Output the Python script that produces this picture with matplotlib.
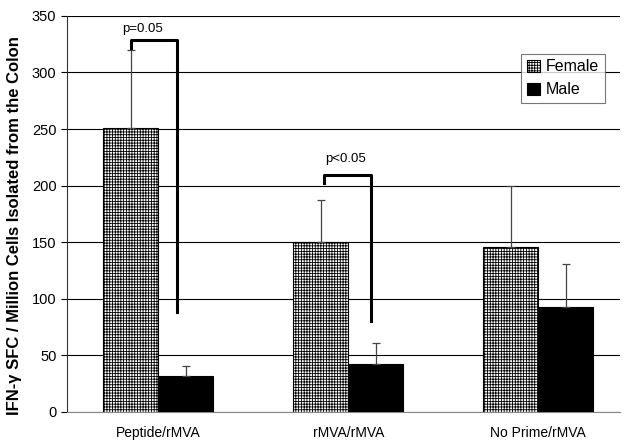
import matplotlib
matplotlib.use('Agg')
import matplotlib.pyplot as plt
import numpy as np

plt.rcParams['font.family'] = ['Liberation Sans', 'DejaVu Sans']
plt.rcParams['hatch.linewidth'] = 0.6

# data
groups = ['Peptide/rMVA', 'rMVA/rMVA', 'No Prime/rMVA']
female = [251, 150, 146]
female_err = [69, 37, 54]
male = [32, 42, 93]
male_err = [9, 19, 38]

yticks = [0, 50, 100, 150, 200, 250, 300, 350]

fig = plt.figure(figsize=(6.25, 4.42), dpi=100)
ax = fig.add_axes([0.107, 0.068, 0.885, 0.896])

x = np.arange(len(groups))
w = 0.29

ax.bar(x - w / 2, female, w, color='white', edgecolor='black', hatch='++++++',
       linewidth=0.8, label='Female', zorder=3)
ax.bar(x + w / 2, male, w, color='black', edgecolor='black',
       linewidth=0.8, label='Male', zorder=3)

# one-sided error bars
ax.errorbar(x - w / 2, female, yerr=[np.zeros(3), female_err], fmt='none',
            ecolor='#444444', elinewidth=0.9, capsize=3, capthick=0.9, zorder=4)
ax.errorbar(x + w / 2, male, yerr=[np.zeros(3), male_err], fmt='none',
            ecolor='#444444', elinewidth=0.9, capsize=3, capthick=0.9, zorder=4)

# significance brackets
ax.plot([-w / 2, -w / 2, 0.1, 0.1], [322, 329, 329, 88], color='black', lw=2.2,
        solid_joinstyle='round', zorder=5)
ax.text(-0.08, 333, 'p=0.05', ha='center', va='bottom', fontsize=9.5)
ax.plot([1 - 0.126, 1 - 0.126, 1.12, 1.12], [202, 209, 209, 80], color='black',
        lw=2.2, solid_joinstyle='round', zorder=5)
ax.text(0.985, 218, 'p<0.05', ha='center', va='bottom', fontsize=9.5)

ax.set_xlim(-0.48, 2.43)
ax.set_ylim(0, 350)
ax.set_yticks(yticks)
ax.yaxis.grid(True, color='black', linewidth=0.8, zorder=0)
ax.set_axisbelow(True)
ax.set_xticks(x)
ax.set_xticklabels(groups, fontsize=10)
ax.tick_params(axis='x', length=0, pad=10)
ax.tick_params(axis='y', labelsize=10.5, direction='out', length=4, width=0.8)

for side in ['top', 'right']:
    ax.spines[side].set_visible(False)
ax.spines['left'].set_color('#333333')
ax.spines['bottom'].set_color('#888888')

ax.set_ylabel('IFN-γ SFC / Million Cells Isolated from the Colon',
              fontsize=12, fontweight='bold', labelpad=4)
ax.yaxis.set_label_coords(-0.082, 0.47)

leg = ax.legend(loc='upper right', bbox_to_anchor=(0.987, 0.925), fontsize=11.5,
                frameon=True, fancybox=False, edgecolor='#555555',
                handlelength=0.8, handleheight=0.8, handletextpad=0.4,
                borderpad=0.35, labelspacing=0.5)
leg.get_frame().set_linewidth(0.8)

fig.savefig('out.png', dpi=100)
